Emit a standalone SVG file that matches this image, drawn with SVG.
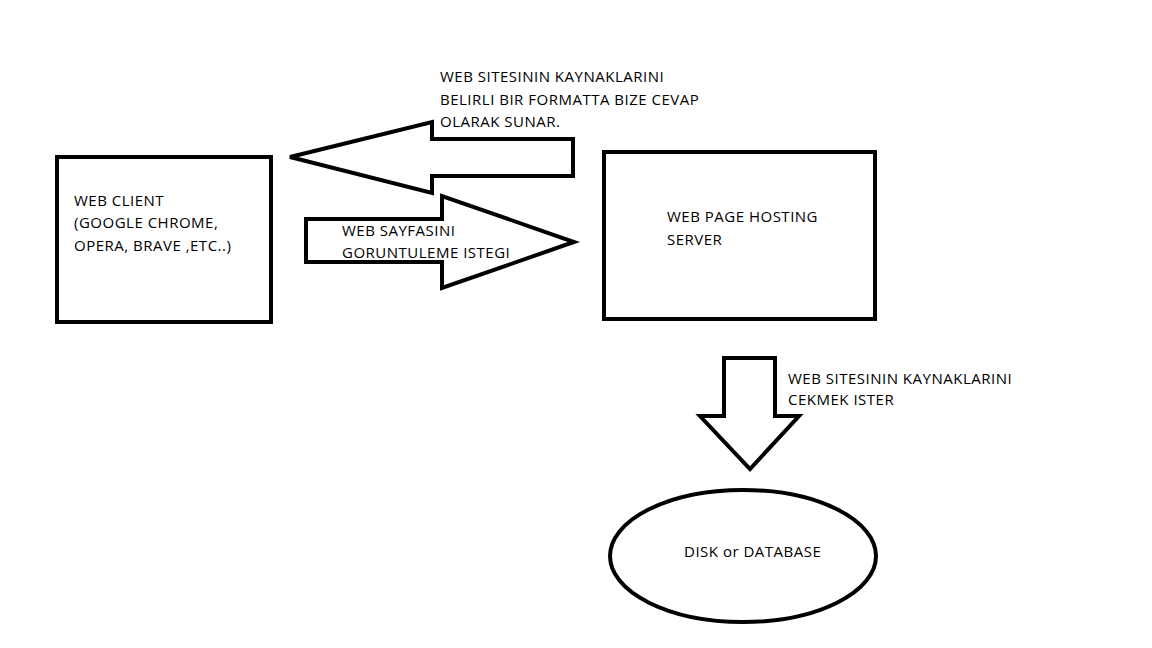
<svg xmlns="http://www.w3.org/2000/svg" width="1152" height="648" viewBox="0 0 1152 648">
<style>
.shape{fill:none;stroke:#000;stroke-width:4;stroke-linejoin:miter}
.t{font-family:"Open Sans","Noto Sans","Liberation Sans",sans-serif;font-size:15px;letter-spacing:0.5px;fill:#000}
</style>
<rect width="1152" height="648" fill="#fff"/>
<g id="web-client">
<rect class="shape" x="57" y="157" width="214" height="165"/>
<text class="t" x="74" y="206">WEB CLIENT</text>
<text class="t" x="74" y="228">(GOOGLE CHROME,</text>
<text class="t" x="74" y="251">OPERA, BRAVE ,ETC..)</text>
</g>
<g id="server">
<rect class="shape" x="604" y="152" width="271" height="167"/>
<text class="t" x="667" y="222">WEB PAGE HOSTING</text>
<text class="t" x="667" y="245">SERVER</text>
</g>
<g id="database">
<ellipse class="shape" cx="743" cy="556" rx="133" ry="66"/>
<text class="t" x="684" y="557">DISK or DATABASE</text>
</g>
<g id="connectors">
<polygon class="shape" points="290,157 432,122 432,139 573,139 573,176 432,176 432,193"/>
<polygon class="shape" points="306,219 442,219 442,196 574,242 442,288 442,262 306,262"/>
<polygon class="shape" points="724,358 775,358 775,416 799,416 750,469 700,416 724,416"/>
<text class="t" x="440" y="82">WEB SITESININ KAYNAKLARINI</text>
<text class="t" x="440" y="105">BELIRLI BIR FORMATTA BIZE CEVAP</text>
<text class="t" x="440" y="127">OLARAK SUNAR.</text>
<text class="t" x="342" y="236">WEB SAYFASINI</text>
<text class="t" x="342" y="258">GORUNTULEME ISTEGI</text>
<text class="t" x="788" y="384">WEB SITESININ KAYNAKLARINI</text>
<text class="t" x="788" y="405">CEKMEK ISTER</text>
</g>
</svg>
